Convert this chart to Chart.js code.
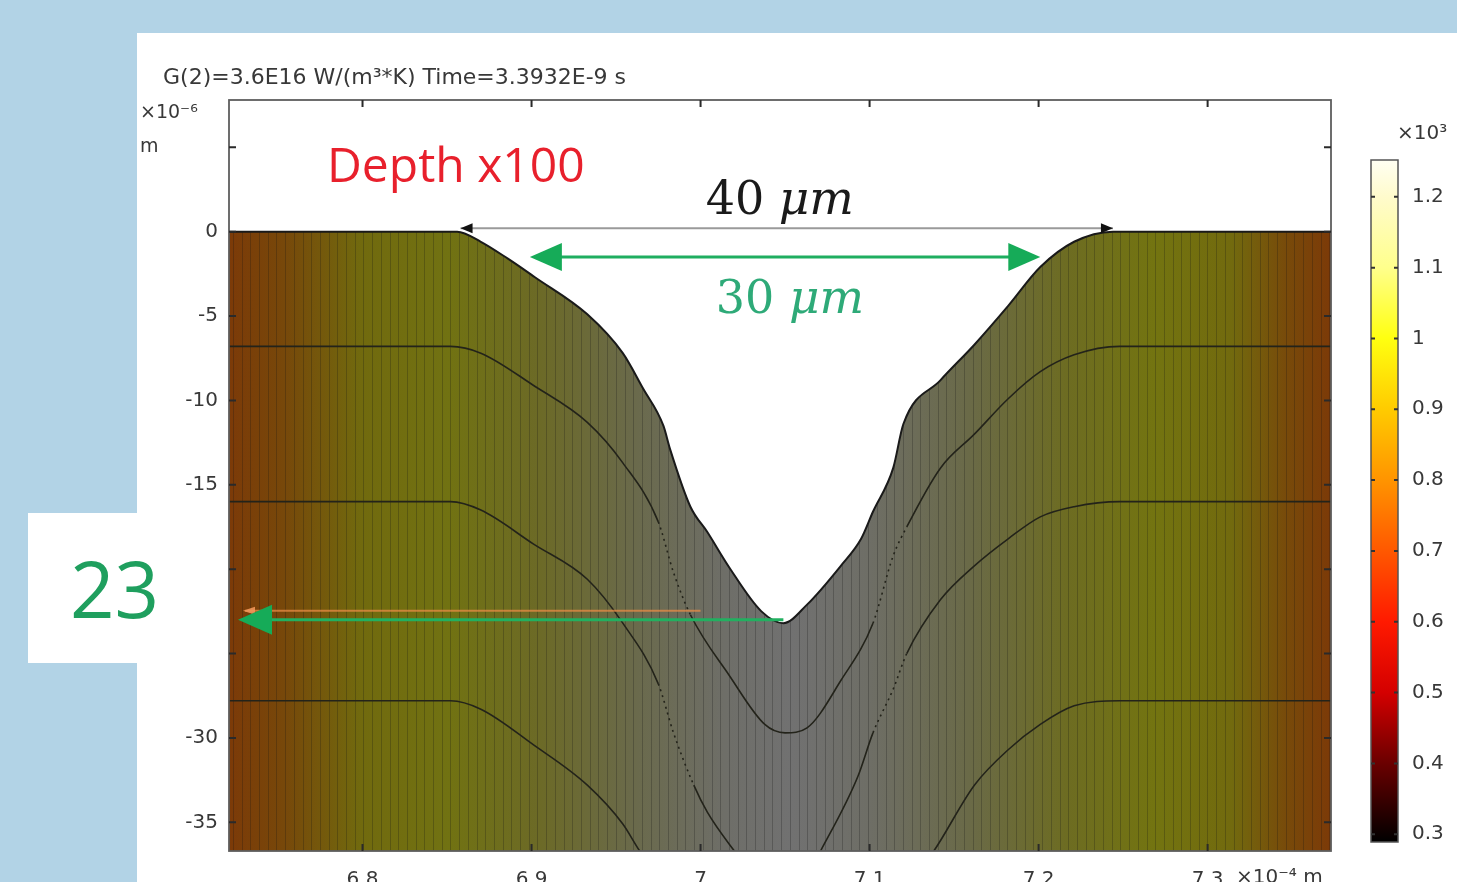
<!DOCTYPE html>
<html>
<head>
<meta charset="utf-8">
<script src="https://cdn.jsdelivr.net/npm/chart.js@4.4.1/dist/chart.umd.min.js"></script>
<style>
  html, body { margin: 0; padding: 0; background: #b2d3e6; overflow: hidden; }
</style>
</head>
<body>
<canvas id="crater" width="1457" height="882"></canvas>
<script>
// axes (x in 1e-4 m, y in 1e-6 m)
const xTicks = [6.8, 6.9, 7, 7.1, 7.2, 7.3];
const yTicks = [-35, -30, -25, -20, -15, -10, -5, 0, 5];
const yHiddenLabels = [5, -20, -25];
const xRange = [6.721, 7.373];
const yRange = [-36.7, 7.8];

// crater surface (depth x100)
const surfaceX = [6.721, 6.856, 6.870, 6.886, 6.902, 6.933, 6.954, 6.966, 6.978, 6.982, 6.994, 7.004, 7.017, 7.036, 7.049, 7.063, 7.083, 7.095, 7.102, 7.114, 7.120, 7.142, 7.162, 7.182, 7.201, 7.221, 7.244, 7.373];
const surfaceY = [0, 0, -0.6, -1.6, -2.7, -4.9, -7.2, -9.3, -11.5, -12.9, -16.3, -17.8, -19.9, -22.5, -23.2, -22.1, -19.8, -18.2, -16.6, -14.0, -11.4, -8.8, -6.7, -4.4, -2.1, -0.6, 0, 0];

// layer boundaries under the crater
const layer1X = [6.721, 6.852, 6.870, 6.901, 6.933, 6.954, 6.975, 6.984, 6.994, 7.017, 7.038, 7.050, 7.063, 7.083, 7.102, 7.114, 7.122, 7.142, 7.162, 7.182, 7.201, 7.221, 7.248, 7.373];
const layer1Y = [-6.8, -6.8, -7.2, -9.1, -11.3, -13.7, -17.2, -20.2, -22.7, -26.3, -29.2, -29.7, -29.4, -26.6, -23.2, -19.2, -17.5, -14.0, -12.0, -9.9, -8.3, -7.3, -6.8, -6.8];
const layer2X = [6.721, 6.852, 6.870, 6.901, 6.933, 6.954, 6.975, 6.984, 6.996, 7.004, 7.020, 7.050, 7.071, 7.093, 7.102, 7.114, 7.122, 7.142, 7.162, 7.182, 7.201, 7.221, 7.248, 7.373];
const layer2Y = [-16.0, -16.0, -16.5, -18.5, -20.6, -23.2, -26.8, -29.7, -32.8, -34.4, -36.7, -40.5, -36.7, -32.3, -29.7, -27.1, -25.0, -21.8, -19.8, -18.2, -16.9, -16.3, -16.0, -16.0];
const layer3X = [6.721, 6.852, 6.870, 6.901, 6.933, 6.954, 6.964, 7.050, 7.138, 7.162, 7.182, 7.201, 7.221, 7.248, 7.373];
const layer3Y = [-27.8, -27.8, -28.3, -30.4, -32.8, -35.1, -36.7, -48.0, -36.7, -32.8, -30.7, -29.2, -28.1, -27.8, -27.8];

// annotations
const outerWidth = [6.858, 7.244];   // 40 um
const innerWidth = [6.899, 7.201];   // 30 um
const bottomPoint = [7.049, -23.0];  // 23 um deep

// colour bar (x10^3 K)
const cbTicks = [0.3, 0.4, 0.5, 0.6, 0.7, 0.8, 0.9, 1, 1.1, 1.2];
const cbRange = [0.289, 1.252];

const TEXT = '#383838';
const SANS = '"DejaVu Sans", sans-serif';

const pts = (xs, ys) => xs.map((v, i) => ({ x: v, y: ys[i] }));

// mesh change zones are drawn dotted
const dotted = ctx => {
  const a = ctx.p0.parsed.x, b = ctx.p1.parsed.x;
  if ((a >= 6.974 && b <= 6.997) || (a >= 7.101 && b <= 7.123)) return [2, 4];
  return undefined;
};

const backdrop = {
  id: 'backdrop',
  beforeDraw(chart) {
    const ctx = chart.ctx;
    ctx.save();
    ctx.fillStyle = '#b2d3e6';
    ctx.fillRect(0, 0, chart.width, chart.height);
    ctx.fillStyle = '#ffffff';
    ctx.fillRect(137, 33, chart.width - 137, chart.height - 33);
    ctx.fillRect(28, 513, 110, 150);
    ctx.restore();
  }
};

const material = {
  id: 'material',
  beforeDatasetsDraw(chart) {
    const { ctx, chartArea: a } = chart;
    ctx.save();
    const g = ctx.createLinearGradient(a.left, 0, a.right, 0);
    [[0, '#7c3a08'], [0.05, '#77480a'], [0.12, '#716a0e'], [0.2, '#717212'], [0.28, '#6c6a26'],
     [0.37, '#6a6a4c'], [0.45, '#6e6e68'], [0.51, '#717171'], [0.58, '#6e6e66'], [0.67, '#6a6a48'],
     [0.76, '#6d6c22'], [0.84, '#737410'], [0.91, '#726a0e'], [0.96, '#784a0a'], [1, '#7c3a08']]
      .forEach(([o, c]) => g.addColorStop(o, c));
    ctx.fillStyle = g;
    ctx.fillRect(a.left, a.top, a.right - a.left, a.bottom - a.top);
    ctx.strokeStyle = 'rgba(20,20,20,0.25)';
    ctx.lineWidth = 1;
    ctx.beginPath();
    for (let sx = a.left + 4; sx < a.right; sx += 8.7) {
      const p = Math.round(sx) + 0.5;
      ctx.moveTo(p, a.top);
      ctx.lineTo(p, a.bottom);
    }
    ctx.stroke();
    ctx.restore();
  }
};

function head(ctx, tx, ty, dir, len, half, color) {
  ctx.fillStyle = color;
  ctx.beginPath();
  ctx.moveTo(tx, ty);
  ctx.lineTo(tx - dir * len, ty - half);
  ctx.lineTo(tx - dir * len, ty + half);
  ctx.closePath();
  ctx.fill();
}

function hline(ctx, x0, x1, yy, color, w) {
  ctx.strokeStyle = color;
  ctx.lineWidth = w;
  ctx.beginPath();
  ctx.moveTo(x0, yy);
  ctx.lineTo(x1, yy);
  ctx.stroke();
}

function runText(ctx, x, y, parts) {
  // parts: [text, font, color]
  let cx = x;
  parts.forEach(([t, f, c]) => {
    ctx.font = f;
    ctx.fillStyle = c;
    ctx.fillText(t, cx, y);
    cx += ctx.measureText(t).width;
  });
}

const overlay = {
  id: 'overlay',
  afterDatasetsDraw(chart) {
    const { ctx, chartArea: a, scales: { x, y } } = chart;
    ctx.save();

    // frame + inward ticks
    ctx.strokeStyle = '#5e5e5e';
    ctx.lineWidth = 1.8;
    ctx.strokeRect(a.left, a.top, a.right - a.left, a.bottom - a.top);
    ctx.strokeStyle = '#2a2a2a';
    ctx.lineWidth = 2;
    ctx.beginPath();
    xTicks.forEach(v => {
      const p = x.getPixelForValue(v);
      ctx.moveTo(p, a.bottom); ctx.lineTo(p, a.bottom - 7);
      ctx.moveTo(p, a.top); ctx.lineTo(p, a.top + 7);
    });
    yTicks.forEach(v => {
      const p = y.getPixelForValue(v);
      ctx.moveTo(a.left, p); ctx.lineTo(a.left + 7, p);
      ctx.moveTo(a.right, p); ctx.lineTo(a.right - 7, p);
    });
    ctx.stroke();

    // 40 um
    const oy = y.getPixelForValue(0.2);
    const ox0 = x.getPixelForValue(outerWidth[0]), ox1 = x.getPixelForValue(outerWidth[1]);
    hline(ctx, ox0, ox1, oy, '#9a9a9a', 2);
    head(ctx, ox0, oy, -1, 12, 5, '#111');
    head(ctx, ox1, oy, 1, 12, 5, '#111');
    ctx.textBaseline = 'alphabetic';
    runText(ctx, x.getPixelForValue(7.003), y.getPixelForValue(1.07), [
      ['40 ', '46px "DejaVu Serif", serif', '#1a1a1a'],
      ['\u03bcm', 'italic 47px "DejaVu Serif", serif', '#1a1a1a']
    ]);

    // 30 um
    const iy = y.getPixelForValue(-1.5);
    const ix0 = x.getPixelForValue(innerWidth[0]), ix1 = x.getPixelForValue(innerWidth[1]);
    hline(ctx, ix0 + 20, ix1 - 20, iy, '#1fae60', 3);
    head(ctx, ix0, iy, -1, 32, 14, '#16ab58');
    head(ctx, ix1, iy, 1, 32, 14, '#16ab58');
    runText(ctx, x.getPixelForValue(7.009), y.getPixelForValue(-4.85), [
      ['30 ', '46px "DejaVu Serif", serif', '#2eaa78'],
      ['\u03bcm', 'italic 47px "DejaVu Serif", serif', '#2eaa78']
    ]);

    // 23 um depth
    const by = y.getPixelForValue(bottomPoint[1]);
    const bx = x.getPixelForValue(bottomPoint[0]);
    hline(ctx, a.left + 16, x.getPixelForValue(7.0), by - 9, 'rgba(232,140,70,0.75)', 2);
    head(ctx, a.left + 14, by - 9, -1, 12, 4, 'rgba(240,150,90,0.9)');
    hline(ctx, a.left + 30, bx, by, '#22b060', 3);
    head(ctx, a.left + 9, by, -1, 34, 15, '#16ab58');

    // Depth x100
    ctx.font = '48px "Open Sans", sans-serif';
    ctx.fillStyle = '#e8202c';
    ctx.fillText('Depth x100', x.getPixelForValue(6.779), y.getPixelForValue(2.95));

    ctx.restore();
  },
  afterDraw(chart) {
    const { ctx, scales: { y } } = chart;
    ctx.save();
    ctx.textBaseline = 'middle';
    ctx.fillStyle = TEXT;

    // title + units
    ctx.font = '22px ' + SANS;
    ctx.fillText('G(2)=3.6E16 W/(m\u00b3*K) Time=3.3932E-9 s', 163, 78);
    ctx.font = '19px ' + SANS;
    ctx.fillText('\u00d710\u207b\u2076', 140, 113);
    ctx.fillText('m', 140, 147);
    ctx.font = '20px ' + SANS;
    ctx.fillText('\u00d710\u207b\u2074 m', 1236, 878);

    // "23" label in the side box
    ctx.textBaseline = 'alphabetic';
    ctx.font = '78px "Open Sans", sans-serif';
    ctx.fillStyle = '#1f9f5e';
    ctx.fillText('23', 70, y.getPixelForValue(bottomPoint[1]) - 2);

    // colour bar
    const cx = 1371, cw = 27, top = 160, bot = 842;
    const cy = v => bot - (v - cbRange[0]) / (cbRange[1] - cbRange[0]) * (bot - top);
    const g = ctx.createLinearGradient(0, bot, 0, top);
    [[0.289, '#000000'], [0.4, '#6a0000'], [0.5, '#d40000'], [0.6, '#ff1a00'], [0.7, '#ff5800'],
     [0.8, '#ff9400'], [0.9, '#ffcb00'], [1.0, '#ffff10'], [1.1, '#ffff8c'], [1.2, '#fffbcc'], [1.252, '#fffff2']]
      .forEach(([v, c]) => g.addColorStop((v - cbRange[0]) / (cbRange[1] - cbRange[0]), c));
    ctx.fillStyle = g;
    ctx.fillRect(cx, top, cw, bot - top);
    ctx.strokeStyle = '#555';
    ctx.lineWidth = 1.5;
    ctx.strokeRect(cx, top, cw, bot - top);
    ctx.strokeStyle = '#333';
    ctx.lineWidth = 2;
    ctx.beginPath();
    cbTicks.forEach(v => {
      const p = cy(v);
      ctx.moveTo(cx, p); ctx.lineTo(cx + 4, p);
      ctx.moveTo(cx + cw, p); ctx.lineTo(cx + cw - 4, p);
    });
    ctx.stroke();
    ctx.textBaseline = 'middle';
    ctx.fillStyle = TEXT;
    ctx.font = '20px ' + SANS;
    cbTicks.forEach(v => ctx.fillText(String(v), 1412, cy(v)));
    ctx.fillText('\u00d710\u00b3', 1397, 134);
    ctx.restore();
  }
};

const line = (data, width) => ({
  data,
  borderColor: '#23231a',
  borderWidth: width,
  pointRadius: 0,
  cubicInterpolationMode: 'monotone',
  fill: false
});

new Chart(document.getElementById('crater').getContext('2d'), {
  type: 'line',
  data: {
    datasets: [
      Object.assign(line(pts(surfaceX, surfaceY), 2), { fill: 'end', backgroundColor: '#ffffff', borderColor: '#1a1a1a' }),
      Object.assign(line(pts(layer1X, layer1Y), 1.6), { segment: { borderDash: dotted } }),
      Object.assign(line(pts(layer2X, layer2Y), 1.6), { segment: { borderDash: dotted } }),
      line(pts(layer3X, layer3Y), 1.6)
    ]
  },
  options: {
    responsive: false,
    animation: false,
    layout: { padding: { left: 0, top: 100, right: 126, bottom: 0 } },
    plugins: { legend: { display: false }, tooltip: { enabled: false } },
    scales: {
      x: {
        type: 'linear',
        min: xRange[0],
        max: xRange[1],
        grid: { display: false, drawTicks: false },
        border: { display: false },
        afterBuildTicks: s => { s.ticks = xTicks.map(v => ({ value: v })); },
        afterFit: s => { s.height = 31; },
        ticks: {
          padding: 17,
          maxRotation: 0,
          color: TEXT,
          font: { family: 'DejaVu Sans', size: 20 },
          callback: v => String(+v.toFixed(1))
        }
      },
      y: {
        type: 'linear',
        min: yRange[0],
        max: yRange[1],
        grid: { display: false, drawTicks: false },
        border: { display: false },
        afterBuildTicks: s => { s.ticks = yTicks.map(v => ({ value: v })); },
        afterFit: s => { s.width = 229; },
        ticks: {
          padding: 11,
          color: TEXT,
          font: { family: 'DejaVu Sans', size: 20 },
          callback: v => (yHiddenLabels.includes(v) ? '' : String(v))
        }
      }
    }
  },
  plugins: [backdrop, material, overlay]
});
</script>
</body>
</html>
